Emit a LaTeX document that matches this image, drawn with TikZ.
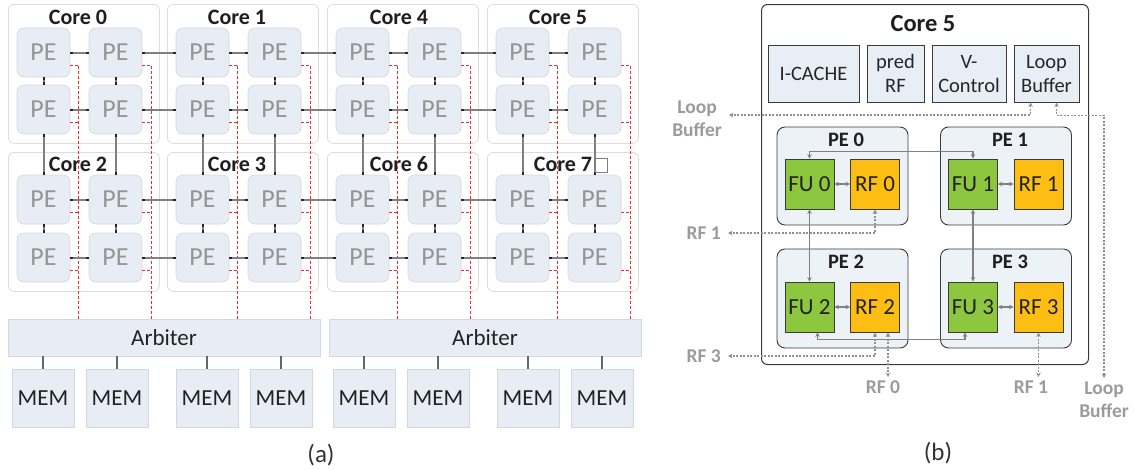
\documentclass[tikz,border=0pt]{standalone}
\usepackage{fontspec}
\setmainfont{Carlito}
\usetikzlibrary{arrows.meta,calc}
\definecolor{peFill}{HTML}{E8EDF5}
\definecolor{peLine}{HTML}{D3D8E0}
\definecolor{coreLine}{HTML}{DCDCDC}
\definecolor{peText}{HTML}{959595}
\definecolor{linkGray}{HTML}{808080}
\definecolor{redDash}{HTML}{EE2A2F}
\definecolor{fuGreen}{HTML}{8DC63F}
\definecolor{rfGold}{HTML}{FDBE14}
\definecolor{peBoxFill}{HTML}{EDF2F7}
\definecolor{topFill}{HTML}{E8EEF6}
\definecolor{lblGray}{HTML}{9B9B9B}
\definecolor{dashGray}{HTML}{909090}
\definecolor{darkText}{HTML}{222222}
\definecolor{boxLine}{HTML}{3A3A3A}
\begin{document}
\begin{tikzpicture}[x=1pt,y=-1pt,
  corebox/.style={draw=coreLine,line width=0.8pt,rounded corners=6pt,fill=white,inner sep=0pt,anchor=north west,minimum width=151pt,minimum height=139pt},
  corelbl/.style={font=\bfseries\fontsize{22}{24}\selectfont,text=black!88,inner sep=0pt},
  pebox/.style={draw=peLine,line width=0.6pt,fill=peFill,rounded corners=7pt,minimum width=53pt,minimum height=49pt,inner sep=0pt,font=\fontsize{26}{28}\selectfont,text=peText},
  link/.style={draw=linkGray,line width=2pt,{Rectangle[length=2.5pt,width=2pt,color=black!85]}-{Rectangle[length=2.5pt,width=2pt,color=black!85]}},
  reddash/.style={draw=redDash,line width=1pt,dash pattern=on 3pt off 2pt},
  membox/.style={draw=peLine,line width=0.8pt,fill=peFill,inner sep=0pt,font=\fontsize{23}{26}\selectfont,text=darkText},
  memlink/.style={draw=black!60,line width=1.6pt},
  bigcore/.style={draw=boxLine,line width=1pt,rounded corners=6pt,fill=white,inner sep=0pt,anchor=north west},
  topbox/.style={draw=boxLine,line width=0.9pt,fill=topFill,inner sep=0pt,minimum height=57pt,align=center,font=\fontsize{20.5}{24}\selectfont,text=black!85},
  pegroup/.style={draw=boxLine,line width=0.9pt,fill=peBoxFill,rounded corners=8pt,inner sep=0pt,minimum width=131pt,minimum height=98pt},
  pelbl/.style={font=\bfseries\fontsize{20.5}{24}\selectfont,text=black!88,inner sep=0pt},
  fubox/.style={draw=boxLine,line width=0.8pt,fill=fuGreen,inner sep=0pt,minimum width=49pt,minimum height=50pt,font=\fontsize{23}{26}\selectfont,text=darkText},
  rfbox/.style={fubox,fill=rfGold},
  garrow/.style={draw=linkGray,line width=1.3pt,{Stealth[length=4.5pt,width=4.5pt]}-{Stealth[length=4.5pt,width=4.5pt]}},
  gdash/.style={draw=dashGray,line width=1.2pt,dash pattern=on 2pt off 1.5pt,{Stealth[length=4.5pt,width=4.5pt]}-{Stealth[length=4.5pt,width=4.5pt]}},
  extlbl/.style={font=\bfseries\fontsize{19.5}{23}\selectfont,text=lblGray,inner sep=0pt,align=center},
  caption/.style={font=\fontsize{25}{28}\selectfont,text=black!80,inner sep=0pt}
]
\useasboundingbox (0,0) rectangle (1135,469);

% ---------------- panel (a) ----------------
\foreach \cc/\cx in {0/8,1/167,2/327,3/487}{
  \node[corebox] (core-\cc-0) at (\cx,4) {};
  \node[corebox] (core-\cc-1) at (\cx,152) {};
}
\foreach \cc/\lx/\na/\nb in {0/78/0/2,1/237/1/3,2/399/4/6}{
  \node[corelbl] (lbl-\na) at (\lx,17) {Core \na};
  \node[corelbl] (lbl-\nb) at (\lx,164) {Core \nb};
}
\node[corelbl] (lbl-5) at (558,17) {Core 5};
\node[corelbl] (lbl-7) at (563,164) {Core 7};

\foreach \cc/\cx in {0/8,1/167,2/327,3/487}{
  \foreach \k in {0,1}{
    \pgfmathtruncatemacro\j{2*\cc+\k}
    \foreach \i/\yc in {0/52.5,1/109.5,2/199.5,3/257.5}{
      \node[pebox] (pe-\i-\j) at ({\cx+35.5+72*\k},\yc) {PE};
    }
  }
}

% arbiters and memories
\node[membox,minimum width=312pt,minimum height=37pt] (arb-0) at (164,337.5) {Arbiter};
\node[membox,minimum width=312pt,minimum height=37pt] (arb-1) at (485,337.5) {Arbiter};
\foreach \m/\mx/\X in {0/43/0,1/117/0,2/207/0,3/281/0,4/364/1,5/438/1,6/528/1,7/602/1}{
  \node[membox,minimum width=62pt,minimum height=58pt] (mem-\m) at (\mx,398) {MEM};
  \draw[memlink] (mem-\m.north) -- (mem-\m.north |- arb-\X.south);
}

% red dashed memory lines
\foreach \j/\rx/\X in {0/78/0,1/151/0,2/237/0,3/310/0,4/397/1,5/470/1,6/557/1,7/630/1}{
  \coordinate (rb-\j) at (\rx,319);
  \foreach \i in {0,1,2,3}{
    \coordinate (rh-\i-\j) at ($(pe-\i-\j.east)+(0,13)$);
    \draw[reddash] (rh-\i-\j) -- (rh-\i-\j -| rb-\j);
  }
  \draw[reddash] (rh-0-\j -| rb-\j) -- (rb-\j |- arb-\X.north);
}

% PE links
\foreach \i in {0,1,2,3}{
  \foreach \j in {0,...,6}{
    \pgfmathtruncatemacro\jn{\j+1}
    \draw[link] (pe-\i-\j) -- (pe-\i-\jn);
  }
}
\foreach \j in {0,...,7}{
  \foreach \i in {0,1,2}{
    \pgfmathtruncatemacro\inext{\i+1}
    \draw[link] (pe-\i-\j) -- (pe-\inext-\j);
  }
}
\node[draw=linkGray,line width=1.4pt,fill=white,inner sep=0pt,minimum width=12pt,minimum height=14pt,anchor=north west] (sq7) at (595,158) {};

\node[caption] (capa) at (321,455) {(a)};

% ---------------- panel (b) ----------------
\node[bigcore,minimum width=327pt,minimum height=360pt] (c5) at (761,4) {};
\node[corelbl,font=\bfseries\fontsize{24.5}{28}\selectfont] (c5lbl) at (923,24) {Core 5};
\node[topbox,minimum width=91pt] (icache) at (813.5,73.5) {I-CACHE};
\node[topbox,minimum width=57pt] (pred) at (895.5,73.5) {pred\\RF};
\node[topbox,minimum width=74pt] (vctrl) at (969,73.5) {V-\\Control};
\node[topbox,minimum width=65pt] (loopb) at (1046.5,73.5) {Loop\\Buffer};

\node[pegroup] (peg0) at (842.5,176) {};
\node[pegroup] (peg1) at (1006,176) {};
\node[pegroup,minimum height=99pt] (peg2) at (842.5,298.5) {};
\node[pegroup,minimum height=99pt] (peg3) at (1006,298.5) {};
\node[pelbl] at (846,140) {PE 0};
\node[pelbl] at (1010,140) {PE 1};
\node[pelbl] at (846,262) {PE 2};
\node[pelbl] at (1010,262) {PE 3};

\node[fubox] (fu0) at (809.5,184) {FU 0};
\node[rfbox] (rf0) at (875,184) {RF 0};
\node[fubox] (fu1) at (973,184) {FU 1};
\node[rfbox] (rf1) at (1038.5,184) {RF 1};
\node[fubox] (fu2) at (809.5,307) {FU 2};
\node[rfbox] (rf2) at (875,307) {RF 2};
\node[fubox] (fu3) at (973,307) {FU 3};
\node[rfbox] (rf3) at (1038.5,307) {RF 3};

% solid gray links
\draw[garrow] (fu0) -- (rf0);
\draw[garrow] (fu1) -- (rf1);
\draw[garrow] (fu2) -- (rf2);
\draw[garrow] (fu3) -- (rf3);
\draw[garrow] (fu0.north) -- ++(0,-7) -| (fu1.north);
\draw[garrow] (fu0.south) -- (fu2.north);
\draw[garrow] (fu1.south) -- (fu3.north);
\draw[garrow] ($(fu2.south)+(8,0)$) -- ++(0,7) -| ($(fu3.south)+(-8,0)$);

% external labels
\node[extlbl] (xlb1) at (697,118.5) {Loop\\Buffer};
\node[extlbl,anchor=east] (xrf1) at (721,233) {RF 1};
\node[extlbl,anchor=east] (xrf3) at (721,356) {RF 3};
\node[extlbl,anchor=north] (xrf0) at (883,381) {RF 0};
\node[extlbl,anchor=north] (xrf1b) at (1031,381) {RF 1};
\node[extlbl,anchor=north] (xlb2) at (1104,382) {Loop\\Buffer};

% dashed external links
\coordinate (lbA) at ($(loopb.south west)+(17,0)$);
\coordinate (lbB) at ($(loopb.south west)+(43,0)$);
\coordinate (rf2b) at ($(rf2.south)+(13,0)$);
\draw[gdash] (lbA) |- ([xshift=7pt]xlb1.east |- 0,115);
\draw[gdash] (lbB) -- ++(0,13) -| ([yshift=4pt]xlb2.north);
\draw[gdash] (rf0.south) |- ([xshift=7pt]xrf1.east);
\draw[gdash] (rf2.south) |- ([xshift=7pt]xrf3.east);
\draw[gdash] (rf2b) -- ([yshift=4pt]rf2b |- xrf0.north);
\draw[gdash] (rf3.south) -- ([yshift=4pt]rf3.south |- xrf1b.north);

\node[caption] (capb) at (938,453) {(b)};
\end{tikzpicture}
\end{document}
